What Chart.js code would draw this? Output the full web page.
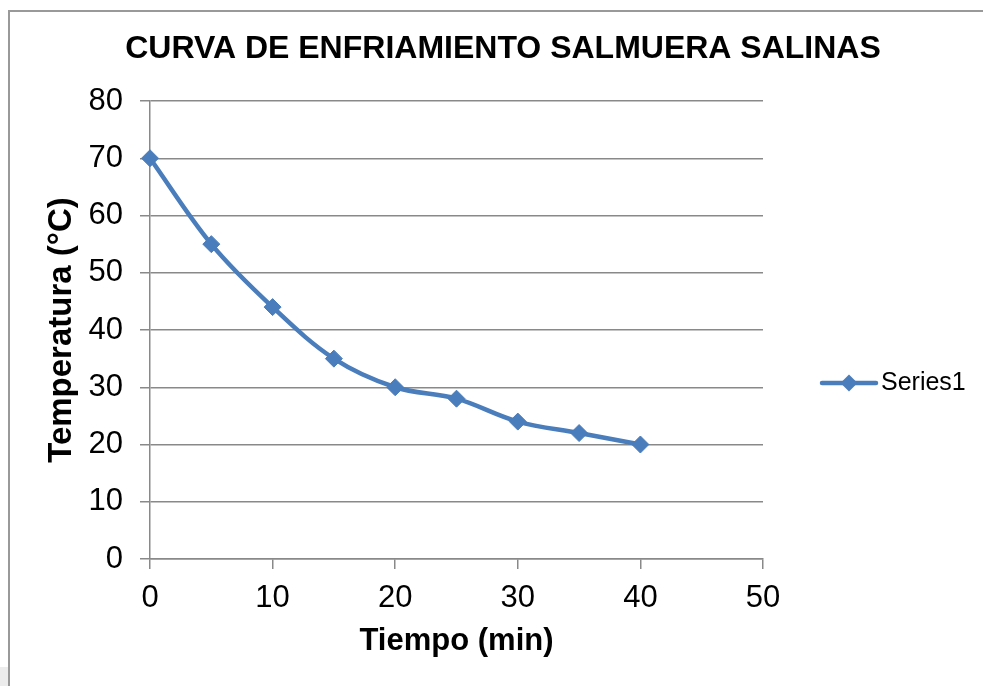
<!DOCTYPE html>
<html>
<head>
<meta charset="utf-8">
<script src="https://cdn.jsdelivr.net/npm/chart.js@4.4.1/dist/chart.umd.min.js"></script>
<style>
  html, body { margin: 0; padding: 0; background: #fff; }
  #wrap { position: relative; width: 983px; height: 686px; overflow: hidden; background: #fff; }
  #c { position: absolute; left: 0; top: 0; }
  #frame { position: absolute; left: 8px; top: 10px; width: 1200px; height: 1000px;
           border-left: 2px solid #999; border-top: 2px solid #999; pointer-events: none; }
  #corner { position: absolute; left: 0; top: 667px; width: 8px; height: 19px; background: #ececec; }
</style>
</head>
<body>
<div id="wrap">
  <canvas id="c" width="983" height="686"></canvas>
  <div id="frame"></div>
  <div id="corner"></div>
</div>
<script>
// Cooling curve of the brine: time in minutes, temperature in °C
const tiempoMin = [0, 5, 10, 15, 20, 25, 30, 35, 40];
const temperaturaC = [70, 55, 44, 35, 30, 28, 24, 22, 20];
const seriesName = 'Series1';
const xTicks = [0, 10, 20, 30, 40, 50];
const yTicks = [0, 10, 20, 30, 40, 50, 60, 70, 80];

const LINE_BLUE = '#4a7dbb';
const GRID_GRAY = '#898989';
const FONT = "'Liberation Sans', Arial, Helvetica, sans-serif";

Chart.defaults.font.family = FONT;
Chart.defaults.color = '#000';

// Legend drawn at the right: a short line with a diamond, then the series name
const sideLegend = {
  id: 'sideLegend',
  afterDraw(chart) {
    const ctx = chart.ctx;
    const ds = chart.data.datasets[0];
    const x0 = chart.chartArea.right + 59;
    const x1 = x0 + 54;
    const y = chart.chartArea.top + 282;
    const cx = (x0 + x1) / 2;
    ctx.save();
    ctx.strokeStyle = ds.borderColor;
    ctx.lineWidth = ds.borderWidth;
    ctx.lineCap = 'round';
    ctx.beginPath();
    ctx.moveTo(x0, y);
    ctx.lineTo(x1, y);
    ctx.stroke();
    const r = ds.pointRadius;
    ctx.fillStyle = ds.pointBackgroundColor;
    ctx.beginPath();
    ctx.moveTo(cx, y - r);
    ctx.lineTo(cx + r, y);
    ctx.lineTo(cx, y + r);
    ctx.lineTo(cx - r, y);
    ctx.closePath();
    ctx.fill();
    ctx.fillStyle = '#000';
    ctx.font = '25px ' + FONT;
    ctx.textAlign = 'left';
    ctx.textBaseline = 'middle';
    ctx.fillText(ds.label, x1 + 5, y);
    ctx.restore();
  }
};

const points = tiempoMin.map((t, i) => ({ x: t, y: temperaturaC[i] }));

new Chart(document.getElementById('c'), {
  type: 'line',
  data: {
    datasets: [{
      label: seriesName,
      data: points,
      borderColor: LINE_BLUE,
      backgroundColor: LINE_BLUE,
      borderWidth: 4.5,
      tension: 0.35,
      pointStyle: 'rectRot',
      pointRadius: 8.5,
      pointBackgroundColor: LINE_BLUE,
      pointBorderColor: LINE_BLUE,
      pointBorderWidth: 1,
      clip: false
    }]
  },
  options: {
    responsive: false,
    animation: false,
    layout: { padding: { left: 23, right: 0, top: 0, bottom: 0 } },
    plugins: {
      legend: { display: false },
      tooltip: { enabled: false },
      title: {
        display: true,
        text: 'CURVA DE ENFRIAMIENTO SALMUERA SALINAS',
        color: '#000',
        font: { size: 32, weight: 'bold', lineHeight: 1.2 },
        padding: { top: 30, bottom: 32.6 }
      }
    },
    scales: {
      x: {
        type: 'linear',
        position: 'bottom',
        min: xTicks[0],
        max: xTicks[xTicks.length - 1],
        afterBuildTicks(s) { s.ticks = xTicks.map(v => ({ value: v })); },
        ticks: { font: { size: 31 }, color: '#000', padding: 11, maxRotation: 0 },
        grid: { drawOnChartArea: false, drawTicks: true, tickLength: 10, color: GRID_GRAY, lineWidth: 1.5 },
        border: { display: true, color: GRID_GRAY, width: 1.5 },
        title: {
          display: true, text: 'Tiempo (min)', color: '#000',
          font: { size: 31, weight: 'bold', lineHeight: 1.2 },
          padding: { top: 0, bottom: 26.4 }
        },
        afterFit(s) { s.height = 127; }
      },
      y: {
        type: 'linear',
        position: 'left',
        min: yTicks[0],
        max: yTicks[yTicks.length - 1],
        afterBuildTicks(s) { s.ticks = yTicks.map(v => ({ value: v })); },
        ticks: { font: { size: 31 }, color: '#000', padding: 17 },
        grid: { drawOnChartArea: true, drawTicks: true, tickLength: 10, color: GRID_GRAY, lineWidth: 1.5 },
        border: { display: true, color: GRID_GRAY, width: 1.5 },
        title: {
          display: true, text: 'Temperatura (°C)', color: '#000',
          font: { size: 33, weight: 'bold', lineHeight: 1.2 },
          padding: { top: 19, bottom: 0 }
        },
        afterFit(s) { s.width = 127; }
      },
      legendSpace: {
        type: 'linear',
        position: 'right',
        display: true,
        ticks: { display: false },
        grid: { display: false },
        border: { display: false },
        afterFit(s) { s.width = 220; }
      }
    }
  },
  plugins: [sideLegend]
});
</script>
</body>
</html>
